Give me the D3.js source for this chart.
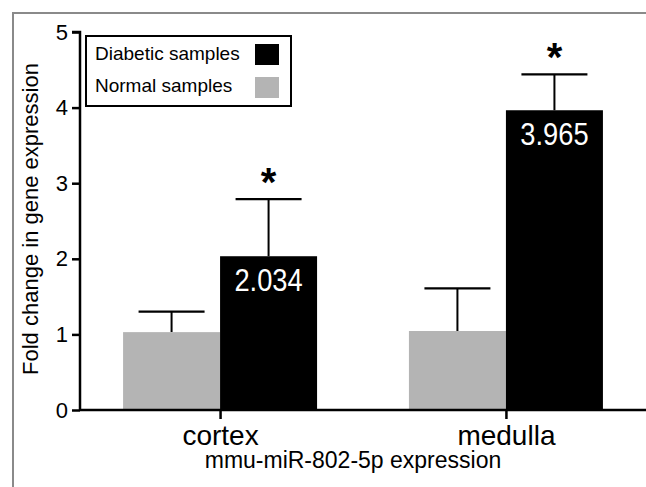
<!DOCTYPE html>
<html>
<head>
<meta charset="utf-8">
<script src="https://cdn.jsdelivr.net/npm/d3@7"></script>
<style>
  body { margin: 0; background: #fff; }
  svg { display: block; font-family: "Liberation Sans", Arial, sans-serif; }
</style>
</head>
<body>
<svg id="chart" width="646" height="487"></svg>
<script>
// data
var tissues = ["cortex", "medulla"];
var groups = ["Normal samples", "Diabetic samples"];
var normalMean = [1.03, 1.045];
var normalErr = [1.30, 1.61];      // top of error bar
var diabeticMean = [2.034, 3.965];
var diabeticErr = [2.79, 4.44];
var yTicks = [0, 1, 2, 3, 4, 5];

var colors = { "Normal samples": "#b4b4b4", "Diabetic samples": "#000000" };

var svg = d3.select("#chart");

// outer frame (top + left only)
svg.append("path")
  .attr("d", "M13,487V13H646")
  .attr("fill", "none")
  .attr("stroke", "#8a8a8a")
  .attr("stroke-width", 2);

var y = d3.scaleLinear().domain([0, 5]).range([410, 32]);

var x = d3.scalePoint()
  .domain(tissues)
  .range([80, 646])
  .padding(0.49);

var xs = d3.scaleBand()
  .domain(groups)
  .range([-97, 97]);

// rows for bars
var rows = [];
tissues.forEach(function(t, i) {
  rows.push({ tissue: t, group: groups[0], mean: normalMean[i], err: normalErr[i] });
  rows.push({ tissue: t, group: groups[1], mean: diabeticMean[i], err: diabeticErr[i] });
});

// error bars (drawn first, bars cover lower part)
var eb = svg.append("g").attr("class", "errbars");
rows.forEach(function(d) {
  var cx = x(d.tissue) + xs(d.group) + xs.bandwidth() / 2;
  eb.append("line")
    .attr("x1", cx).attr("x2", cx)
    .attr("y1", y(d.mean)).attr("y2", y(d.err))
    .attr("stroke", "#000").attr("stroke-width", 2);
  eb.append("line")
    .attr("x1", cx - 33).attr("x2", cx + 33)
    .attr("y1", y(d.err)).attr("y2", y(d.err))
    .attr("stroke", "#000").attr("stroke-width", 2.2);
});

svg.append("g").selectAll("rect")
  .data(rows)
  .enter().append("rect")
    .attr("x", function(d) { return x(d.tissue) + xs(d.group); })
    .attr("y", function(d) { return y(d.mean); })
    .attr("width", xs.bandwidth())
    .attr("height", function(d) { return y(0) - y(d.mean); })
    .attr("fill", function(d) { return colors[d.group]; });

// value labels in diabetic bars
svg.append("g").selectAll("text")
  .data(rows.filter(function(d) { return d.group == groups[1]; }))
  .enter().append("text")
    .attr("transform", function(d) {
      var cx = x(d.tissue) + xs(d.group) + xs.bandwidth() / 2;
      return "translate(" + cx + "," + (y(d.mean) + 35) + ") scale(0.88,1)";
    })
    .attr("text-anchor", "middle")
    .attr("fill", "#fff")
    .style("font-size", "31px")
    .text(function(d) { return d.mean.toFixed(3); });

// significance stars
svg.append("g").selectAll("text")
  .data(rows.filter(function(d) { return d.group == groups[1]; }))
  .enter().append("text")
    .attr("x", function(d) { return x(d.tissue) + xs(d.group) + xs.bandwidth() / 2; })
    .attr("y", function(d) { return y(d.err) - 3; })
    .attr("text-anchor", "middle")
    .style("font-size", "40px")
    .style("font-weight", "bold")
    .text("*");

// y axis
var yAxis = svg.append("g")
  .attr("transform", "translate(80,0)")
  .call(d3.axisLeft(y).tickValues(yTicks).tickSize(8).tickPadding(4).tickFormat(d3.format("d")));
yAxis.select(".domain").attr("stroke-width", 2.5).attr("d", "M-8," + y(5) + "H0V" + y(0));
yAxis.selectAll(".tick line").attr("stroke-width", 2.5);
yAxis.selectAll(".tick text").style("font-size", "22px").style("font-family", "Liberation Sans, Arial, sans-serif").attr("fill", "#000");

// x axis
var xAxis = svg.append("g")
  .attr("transform", "translate(0,410)")
  .call(d3.axisBottom(x).tickSize(9).tickPadding(6));
xAxis.select(".domain").attr("stroke-width", 2.5).attr("d", "M80,0H646");
xAxis.selectAll(".tick line").attr("stroke-width", 2.5);
xAxis.selectAll(".tick text").style("font-size", "28px").style("font-family", "Liberation Sans, Arial, sans-serif").attr("fill", "#000");

// axis titles
svg.append("text")
  .attr("transform", "translate(38,219) rotate(-90)")
  .attr("text-anchor", "middle")
  .style("font-size", "22px")
  .text("Fold change in gene expression");

svg.append("text")
  .attr("x", 353)
  .attr("y", 468)
  .attr("text-anchor", "middle")
  .style("font-size", "23px")
  .text("mmu-miR-802-5p expression");

// legend
var legend = svg.append("g").attr("class", "legend");
legend.append("rect")
  .attr("x", 86).attr("y", 36)
  .attr("width", 205).attr("height", 70)
  .attr("fill", "#fff").attr("stroke", "#000").attr("stroke-width", 2);

var legendItems = [groups[1], groups[0]];
legendItems.forEach(function(g, i) {
  legend.append("text")
    .attr("x", 95)
    .attr("y", 60 + i * 32)
    .style("font-size", "19px")
    .text(g);
  legend.append("rect")
    .attr("x", 255).attr("y", 44 + i * 33)
    .attr("width", 24).attr("height", 21)
    .attr("fill", colors[g]);
});
</script>
</body>
</html>
